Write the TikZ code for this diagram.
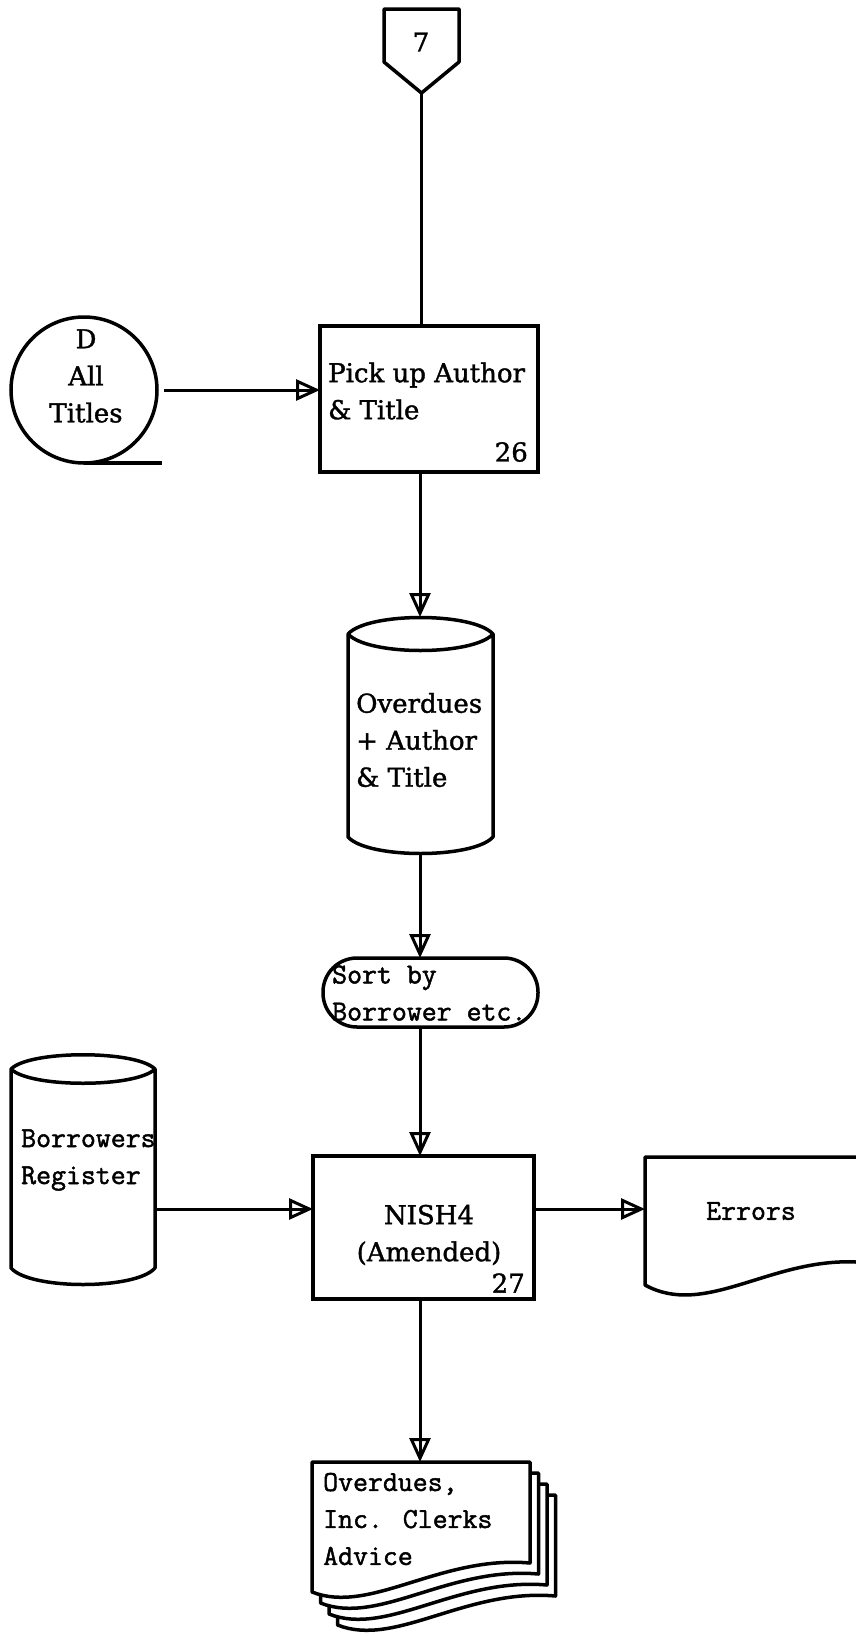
\documentclass[tikz,border=0pt]{standalone}
\usepackage{fontspec}
\setmainfont{DejaVu Serif}
\newfontfamily\myserif[FakeBold=1.4]{DejaVu Serif}
\newfontfamily\mytt[FakeBold=1.6]{Latin Modern Mono}
\usetikzlibrary{arrows.meta,calc}
\newcommand\mypfont{\myserif\fontsize{26}{37}\selectfont}
\newcommand\mytfont{\mytt\fontsize{29}{37}\selectfont}
\begin{document}
\begin{tikzpicture}[x=1pt,y=-1pt,
  shp/.style={line width=3.5pt, line join=round},
  ln/.style={line width=3pt, shorten >=4pt},
  arr/.style={line width=3pt, -{Triangle[open,length=24pt,width=21pt]}},
  ptxt/.style={font=\mypfont, align=left, inner sep=0pt},
  ttxt/.style={font=\mytfont, align=left, inner sep=0pt},
  procbox/.style={draw, line width=3.5pt, inner sep=0pt, outer sep=0pt},
  hold/.style={inner sep=0pt, outer sep=0pt}]
\fill[white] (0,0) rectangle (855,1636);
\useasboundingbox (0,0) rectangle (855,1636);

\coordinate (trunk) at (420,0);
\coordinate (hrow) at (0,1209);

% off-page connector 7
\node[hold, minimum width=75pt, minimum height=84pt] (c7) at (421.5,51) {};
\draw[shp] (c7.north west) -- (c7.north east) -- ($(c7.north east)+(0,53)$) -- (c7.south) -- ($(c7.north west)+(0,53)$) -- cycle;
\node[ptxt] (t7) at (421,42) {7};

% magnetic tape D All Titles
\node[draw, circle, line width=3.5pt, minimum size=146pt, inner sep=0pt, outer sep=0pt] (tape) at (84,390) {};
\draw[shp] (tape.south) -- ++(78,0);
\node[ptxt, align=center] (tapet) at (86,376) {D\\All\\Titles};

% process 26
\node[procbox, minimum width=218pt, minimum height=146pt] (b26) at (429,399) {};
\node[ptxt, anchor=west] (b26t) at (328,391) {Pick up Author\\\& Title};
\node[ptxt, anchor=east] (b26n) at (528,452) {26};

% disk Overdues + Author & Title
\node[hold, minimum width=145pt, minimum height=236pt] (cyl) at (420.5,735) {};
\draw[shp] (348,634) .. controls (368,612) and (473,612) .. (493,634)
  .. controls (473,656) and (368,656) .. (348,634)
  -- (348,837) .. controls (368,859) and (473,859) .. (493,837) -- (493,634);
\node[ptxt, anchor=west] (cylt) at (356,740) {Overdues\\+ Author\\\& Title};

% terminal Sort by Borrower etc.
\node[procbox, rounded corners=34pt, minimum width=215pt, minimum height=69pt] (sort) at (430.5,992.5) {};
\node[ttxt, anchor=west] (sortt) at (332,993) {Sort by\\Borrower etc.};

% disk Borrowers Register
\node[hold, minimum width=144pt, minimum height=229pt] (reg) at (83,1169.5) {};
\draw[shp] (11,1069) .. controls (30,1050) and (136,1050) .. (155,1069)
  .. controls (136,1088) and (30,1088) .. (11,1069)
  -- (11,1268) .. controls (30,1290) and (136,1290) .. (155,1268) -- (155,1069);
\node[ttxt, anchor=west] (regt) at (21,1160) {Borrowers\\Register};

% process NISH4
\node[procbox, minimum width=221pt, minimum height=143pt] (nish) at (423.5,1227.5) {};
\node[ptxt, align=center] (nisht) at (429,1235) {NISH4\\(Amended)};
\node[ptxt, anchor=east] (nishn) at (525,1283) {27};

% document Errors
\node[hold, minimum width=210pt, minimum height=128pt] (err) at (750,1221) {};
\draw[shp] (856,1157) -- (645,1157) -- (645,1285)
  .. controls (705,1318) and (770,1258) .. (856,1262);
\node[ttxt] (errt) at (751,1211) {Errors};

% multi-document
\node[hold, minimum width=218pt, minimum height=130pt] (doc) at (421,1527) {};
\foreach \k in {3,2,1,0}{
  \draw[shp, fill=white] ($(312,1462)+(8.5*\k,11*\k)$) -- ($(530,1462)+(8.5*\k,11*\k)$)
    -- ($(530,1563)+(8.5*\k,11*\k)$)
    .. controls ($(440,1555)+(8.5*\k,11*\k)$) and ($(370,1615)+(8.5*\k,11*\k)$) .. ($(312,1592)+(8.5*\k,11*\k)$) -- cycle;
}
\node[ttxt, anchor=west] (doct) at (323,1519) {Overdues,\\Inc. Clerks\\Advice};

% connectors
\draw[ln, shorten >=0pt] (c7.south) -- (c7.south |- b26.north);
\draw[ln] ([xshift=7pt]tape.east) -- (tape.east -| b26.west);
\draw[arr] ([xshift=7pt]tape.east) -- (tape.east -| b26.west);
\draw[ln] (trunk |- b26.south) -- (trunk |- cyl.north);
\draw[arr] (trunk |- b26.south) -- (trunk |- cyl.north);
\draw[ln] (trunk |- cyl.south) -- (trunk |- sort.north);
\draw[arr] (trunk |- cyl.south) -- (trunk |- sort.north);
\draw[ln] (trunk |- sort.south) -- (trunk |- nish.north);
\draw[arr] (trunk |- sort.south) -- (trunk |- nish.north);
\draw[ln] ([xshift=1pt]reg.east |- hrow) -- (nish.west |- hrow);
\draw[arr] ([xshift=1pt]reg.east |- hrow) -- (nish.west |- hrow);
\draw[ln] (nish.east |- hrow) -- (err.west |- hrow);
\draw[arr] (nish.east |- hrow) -- (err.west |- hrow);
\draw[ln] (trunk |- nish.south) -- (trunk |- doc.north);
\draw[arr] (trunk |- nish.south) -- (trunk |- doc.north);
\end{tikzpicture}
\end{document}
